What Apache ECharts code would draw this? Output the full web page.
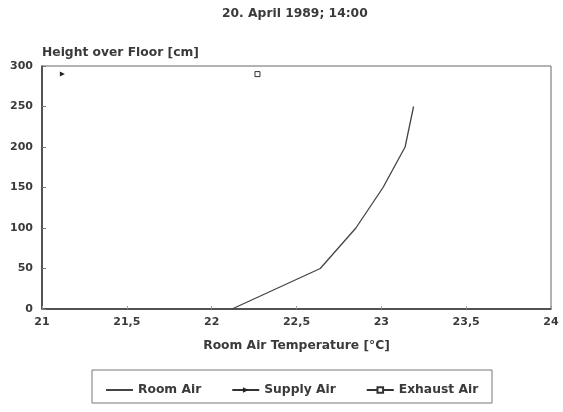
<!DOCTYPE html>
<html><head><meta charset="utf-8">
<script src="https://cdn.jsdelivr.net/npm/echarts@6/dist/echarts.min.js"></script>
<style>html,body{margin:0;padding:0;background:#fff}#c{width:563px;height:412px}</style>
</head><body><div id="c"></div>
<script>
const titleText = '20. April 1989; 14:00';
const xName = 'Room Air Temperature [°C]';
const yName = 'Height over Floor [cm]';
const seriesNames = ['Room Air', 'Supply Air', 'Exhaust Air'];
const roomAirTemp = [22.12, 22.64, 22.85, 23.01, 23.14, 23.19];
const roomAirHeight = [0, 50, 100, 150, 200, 250];
const supplyAirTemp = [21.12];
const supplyAirHeight = [290];
const exhaustAirTemp = [22.27];
const exhaustAirHeight = [290];

const font = 'DejaVu Sans';
const ink = '#3a3a3a';
const big = { fontFamily: font, fontSize: 12.3, fontWeight: 'bold', color: ink };
const small = { fontFamily: font, fontSize: 11, fontWeight: 'bold', color: ink };
const chart = echarts.init(document.getElementById('c'));
chart.setOption({
  animation: false,
  backgroundColor: '#fff',
  title: { text: titleText, left: 222, top: 3, textStyle: big, padding: [5, 0, 5, 0] },
  grid: { left: 42, right: 12, top: 66, bottom: 103, show: true, borderColor: '#666', borderWidth: 1 },
  xAxis: {
    type: 'value', min: 21, max: 24, interval: 0.5,
    name: xName, nameLocation: 'middle', nameGap: 31, nameTextStyle: big,
    axisLine: { show: true, lineStyle: { color: '#333', width: 1.5 } },
    axisTick: { show: true, inside: true, length: 3, lineStyle: { color: '#999' } },
    splitLine: { show: false },
    axisLabel: Object.assign({ margin: 8, formatter: v => String(v).replace('.', ',') }, small)
  },
  yAxis: {
    type: 'value', min: 0, max: 300, interval: 50,
    name: yName, nameLocation: 'end', nameGap: 7,
    nameTextStyle: Object.assign({ align: 'left' }, big),
    axisLine: { show: true, lineStyle: { color: '#333', width: 1.5 } },
    axisTick: { show: true, inside: true, length: 4, lineStyle: { color: '#777' } },
    splitLine: { show: false },
    axisLabel: Object.assign({ margin: 9 }, small)
  },
  legend: {
    data: [
      { name: seriesNames[0], itemStyle: { color: 'rgba(0,0,0,0)', borderColor: 'rgba(0,0,0,0)', borderWidth: 0 } },
      { name: seriesNames[1] },
      { name: seriesNames[2] }
    ],
    left: 100, top: 379, itemWidth: 27, itemHeight: 7, itemGap: 30,
    textStyle: big
  },
  graphic: [{ type: 'rect', shape: { x: 92, y: 370, width: 400, height: 33 },
    style: { fill: 'none', stroke: '#777', lineWidth: 1 } }],
  series: [
    { name: seriesNames[0], type: 'line', data: roomAirTemp.map((t, i) => [t, roomAirHeight[i]]),
      symbol: 'circle', showSymbol: false, lineStyle: { color: '#444', width: 1.3 }, itemStyle: { color: '#444' } },
    { name: seriesNames[1], type: 'line', data: supplyAirTemp.map((t, i) => [t, supplyAirHeight[i]]),
      symbol: 'triangle', symbolSize: 5, symbolRotate: -90,
      lineStyle: { color: '#333', width: 1.3 }, itemStyle: { color: '#222' } },
    { name: seriesNames[2], type: 'line', data: exhaustAirTemp.map((t, i) => [t, exhaustAirHeight[i]]),
      symbol: 'rect', symbolSize: 5,
      lineStyle: { color: '#333', width: 1.3 }, itemStyle: { color: '#fff', borderColor: '#333', borderWidth: 1 } }
  ]
});
</script></body></html>
